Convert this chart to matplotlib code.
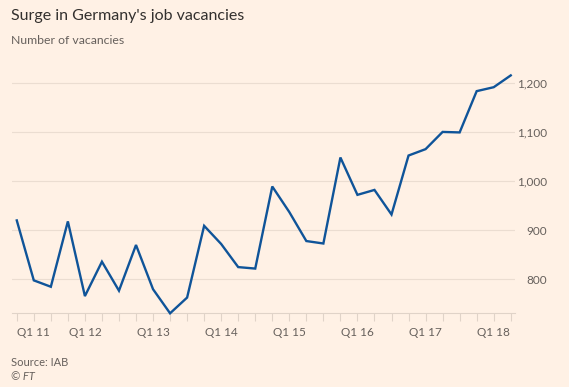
import matplotlib
matplotlib.use("Agg")
import matplotlib.pyplot as plt

quarters = ["Q1 11","Q2 11","Q3 11","Q4 11","Q1 12","Q2 12","Q3 12","Q4 12",
            "Q1 13","Q2 13","Q3 13","Q4 13","Q1 14","Q2 14","Q3 14","Q4 14",
            "Q1 15","Q2 15","Q3 15","Q4 15","Q1 16","Q2 16","Q3 16","Q4 16",
            "Q1 17","Q2 17","Q3 17","Q4 17","Q1 18","Q2 18"]
vacancies = [920, 798, 785, 918, 766, 836, 777, 870,
             780, 731, 763, 909, 872, 825, 822, 989,
             937, 878, 873, 1048, 972, 982, 932, 1052,
             1065, 1100, 1099, 1183, 1191, 1215]
yticks = [800, 900, 1000, 1100, 1200]
ytick_labels = ["800", "900", "1,000", "1,100", "1,200"]

BG = "#FFF1E5"
LINE = "#0F5499"
GRID = "#EBDDD1"
TXT = "#66605C"

plt.rcParams['font.family'] = ['Lato', 'DejaVu Sans']

fig = plt.figure(figsize=(5.69, 3.87), dpi=100, facecolor=BG)
W, H = 569, 387
left, right, top, bottom = 12, 515, 70, 313.3
ax = fig.add_axes([left / W, 1 - bottom / H, (right - left) / W, (bottom - top) / H])
ax.set_facecolor(BG)

x = list(range(len(vacancies)))
ax.plot(x, vacancies, color=LINE, lw=1.7, solid_joinstyle='miter', zorder=3, clip_on=False)

ax.set_xlim(-0.28, 29.25)
ax.set_ylim(731, 1226)

for s in ["top", "left", "right"]:
    ax.spines[s].set_visible(False)
ax.spines["bottom"].set_color("#E0D3C8")
ax.spines["bottom"].set_linewidth(0.8)

ax.yaxis.tick_right()
ax.set_yticks(yticks)
ax.set_yticklabels(ytick_labels)
ax.tick_params(axis='y', length=0, pad=23, labelsize=8.5, labelcolor=TXT)
for lab in ax.get_yticklabels():
    lab.set_ha('right')
ax.grid(axis='y', color=GRID, lw=0.8)
ax.set_axisbelow(True)

ax.set_xticks(x)
ax.set_xticklabels([q if q.startswith("Q1") else "" for q in quarters])
ax.tick_params(axis='x', length=6, width=0.8, color="#E0D3C8", pad=4,
               labelsize=8.5, labelcolor=TXT)
ax.get_xticklabels()[0].set_ha('left')

fig.text(11 / W, 1 - 16 / H, "Surge in Germany's job vacancies", fontsize=11.5,
         color="#33302E", va='center', ha='left')
fig.text(11 / W, 1 - 40 / H, "Number of vacancies", fontsize=8.8,
         color=TXT, va='center', ha='left')
fig.text(11 / W, 1 - 362 / H, "Source: IAB", fontsize=8,
         color=TXT, va='center', ha='left')
fig.text(11 / W, 1 - 376 / H, "© FT", fontsize=8, style='italic',
         color=TXT, va='center', ha='left')

fig.savefig("out.png", dpi=100, facecolor=BG)
